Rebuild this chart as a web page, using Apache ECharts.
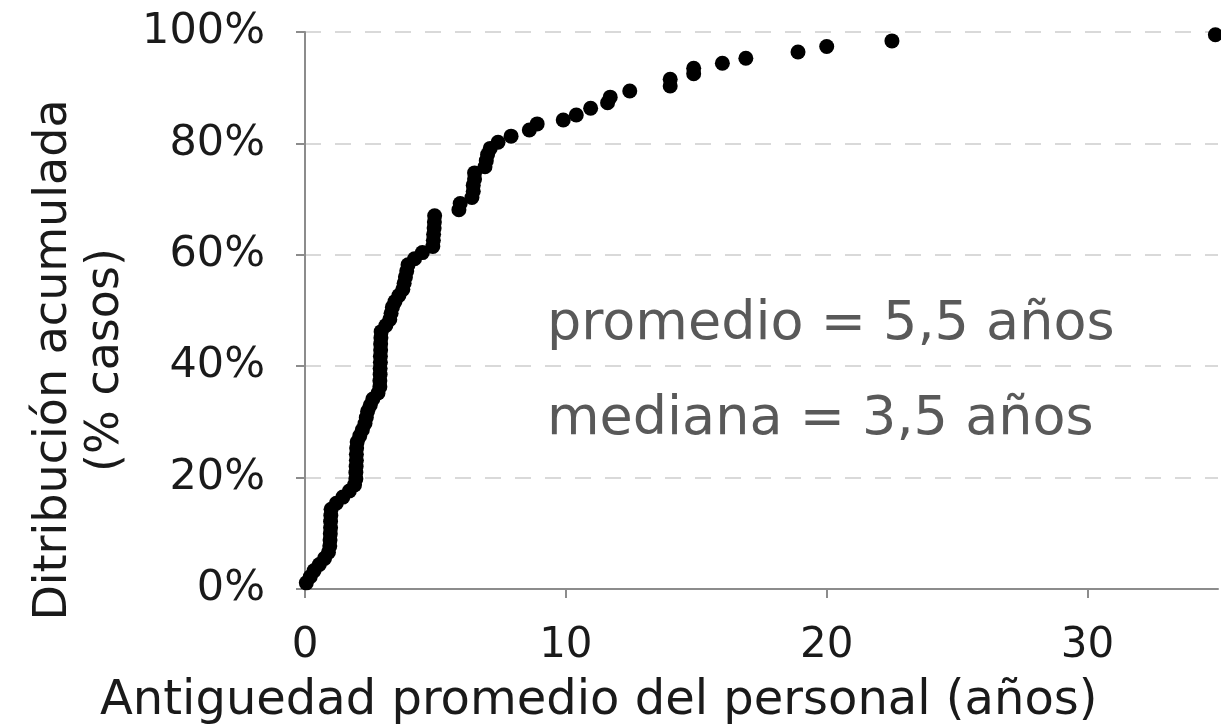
<!DOCTYPE html>
<html>
<head>
<meta charset="utf-8">
<script src="https://cdn.jsdelivr.net/npm/echarts@6/dist/echarts.min.js"></script>
<style>
  html, body { margin: 0; padding: 0; background: #fff; }
  #chart { width: 1221px; height: 727px; }
</style>
</head>
<body>
<div id="chart"></div>
<script>
// antigüedad promedio (años) de cada caso
var antiguedad = [
  0.05, 0.2, 0.35, 0.55, 0.75, 0.9,
  0.95, 0.96, 0.97, 0.98, 0.98, 0.99, 1.0,
  1.2, 1.45, 1.7, 1.9,
  1.95, 1.95, 1.96, 1.97, 1.97, 1.98, 2.0,
  2.1, 2.2, 2.3, 2.35, 2.4, 2.5, 2.6, 2.8,
  2.87, 2.87, 2.88, 2.88, 2.89, 2.89, 2.9, 2.9, 2.91, 2.92,
  3.1, 3.25, 3.3, 3.35, 3.45, 3.6, 3.75, 3.8, 3.85, 3.9, 3.95, 4.2, 4.5, 4.9, 4.92, 4.93, 4.95, 4.96, 4.97,
  5.9, 5.95, 6.4, 6.45, 6.45, 6.5, 6.5, 6.9, 6.95, 7.0, 7.1, 7.4, 7.9, 8.6, 8.9,
  9.9, 10.4, 10.95, 11.6, 11.7, 12.45, 14.0, 14.0, 14.9, 14.9, 16.0, 16.9, 18.9, 20.0, 22.5, 34.9
];
// distribución acumulada (%)
var acumulado = [
  1.1, 2.2, 3.3, 4.4, 5.5, 6.6,
  7.7, 8.8, 9.9, 11.0, 12.1, 13.2, 14.3,
  15.4, 16.5, 17.6, 18.7,
  19.8, 20.9, 22.0, 23.1, 24.2, 25.3, 26.4,
  27.5, 28.6, 29.7, 30.8, 31.9, 33.0, 34.1, 35.2,
  36.3, 37.4, 38.5, 39.6, 40.7, 41.8, 42.9, 44.0, 45.1, 46.2,
  47.3, 48.4, 49.5, 50.6, 51.6, 52.7, 53.8, 54.9, 56.0, 57.1, 58.2, 59.3, 60.4, 61.5, 62.6, 63.7, 64.8, 65.9, 67.0,
  68.1, 69.2, 70.3, 71.4, 72.5, 73.6, 74.7, 75.8, 76.9, 78.0, 79.1, 80.2, 81.3, 82.4, 83.5,
  84.2, 85.1, 86.3, 87.3, 88.3, 89.4, 90.3, 91.5, 92.5, 93.5, 94.4, 95.3, 96.4, 97.4, 98.4, 99.5
];
var notas = ['promedio = 5,5 años', 'mediana = 3,5 años'];

var fuente = 'DejaVu Sans';
var puntos = [];
for (let i = 0; i < antiguedad.length; i++) {
  puntos.push([antiguedad[i], acumulado[i]]);
}

var chart = echarts.init(document.getElementById('chart'));

var option = {
  animation: false,
  grid: { left: 305, right: 3, top: 32, bottom: 138 },
  xAxis: {
    type: 'value',
    min: 0, max: 35, interval: 10,
    axisLine: { lineStyle: { color: '#8c8c8c', width: 2 } },
    axisTick: { show: true, length: 9, lineStyle: { color: '#8c8c8c', width: 2 } },
    axisLabel: { color: '#1a1a1a', fontFamily: fuente, fontSize: 42, margin: 36, showMaxLabel: false },
    splitLine: { show: false }
  },
  yAxis: {
    type: 'value',
    min: 0, max: 100, interval: 20,
    axisLine: { show: true, lineStyle: { color: '#8c8c8c', width: 2 } },
    axisTick: { show: true, length: 9, lineStyle: { color: '#8c8c8c', width: 2 } },
    axisLabel: { color: '#1a1a1a', fontFamily: fuente, fontSize: 43, margin: 40, formatter: '{value}%' },
    splitLine: { show: true, lineStyle: { color: '#d9d9d9', width: 2, type: [16, 14] } }
  },
  series: [{
    type: 'scatter',
    data: puntos,
    symbolSize: 15,
    itemStyle: { color: '#000', opacity: 1 },
    clip: false
  }],
  graphic: [
    {
      type: 'text', left: 100, top: 678,
      style: { text: 'Antiguedad promedio del personal (años)', fill: '#1a1a1a', font: '48px "DejaVu Sans"' }
    },
    {
      type: 'text', x: 80, y: 360, rotation: Math.PI / 2,
      style: {
        text: 'Ditribución acumulada\n(% casos)', fill: '#1a1a1a', font: '46px "DejaVu Sans"',
        align: 'center', verticalAlign: 'middle', lineHeight: 52
      }
    },
    {
      type: 'text', left: 547, top: 298,
      style: { text: notas[0], fill: '#595959', font: '54px "DejaVu Sans"' }
    },
    {
      type: 'text', left: 547, top: 393,
      style: { text: notas[1], fill: '#595959', font: '54px "DejaVu Sans"' }
    }
  ]
};

chart.setOption(option);
</script>
</body>
</html>
